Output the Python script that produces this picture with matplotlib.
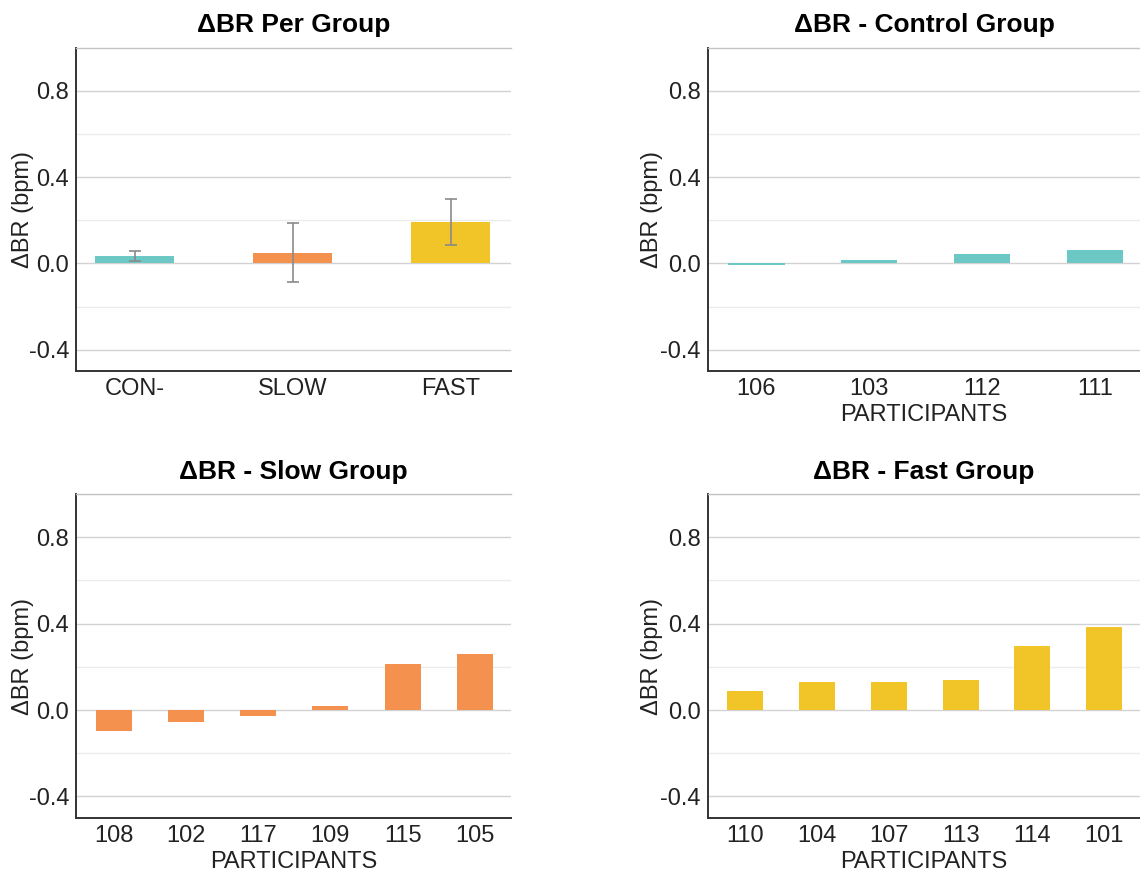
import numpy as np
import matplotlib
matplotlib.use("Agg")
import matplotlib.pyplot as plt
from matplotlib.ticker import MultipleLocator, FixedLocator

plt.rcParams['font.family'] = ['Liberation Sans', 'DejaVu Sans']

# group summary
groups = ["CON-", "SLOW", "FAST"]
group_means = [0.033, 0.050, 0.190]
group_err = [0.023, 0.137, 0.107]

# per participant
control_ids = ["106", "103", "112", "111"]
control_vals = [-0.008, 0.017, 0.042, 0.060]

slow_ids = ["108", "102", "117", "109", "115", "105"]
slow_vals = [-0.096, -0.056, -0.029, 0.019, 0.213, 0.259]

fast_ids = ["110", "104", "107", "113", "114", "101"]
fast_vals = [0.090, 0.128, 0.128, 0.137, 0.297, 0.383]

TEAL = "#6cc8c4"
ORANGE = "#f5914f"
YELLOW = "#f1c428"


def style_axes(ax, title, xlabel=None, label_x=-0.1):
    ax.set_ylim(-0.5, 1.0)
    ax.yaxis.set_major_locator(FixedLocator([-0.4, 0.0, 0.4, 0.8]))
    ax.yaxis.set_minor_locator(MultipleLocator(0.2))
    ax.set_yticklabels(["-0.4", "0.0", "0.4", "0.8"])
    ax.grid(axis='y', which='major', color='#d2d2d2', linewidth=1.0)
    ax.grid(axis='y', which='minor', color='#ececec', linewidth=1.0)
    ax.set_axisbelow(True)
    ax.tick_params(axis='both', which='both', length=0, labelsize=17,
                   labelcolor='#222222', pad=5)
    ax.spines['right'].set_visible(False)
    ax.spines['top'].set_color('#c4c4c4')
    ax.spines['top'].set_linewidth(1.0)
    for s in ['left', 'bottom']:
        ax.spines[s].set_color('#333333')
        ax.spines[s].set_linewidth(1.4)
    ax.set_title(title, fontsize=19, fontweight='bold', pad=11)
    ax.set_ylabel("\u0394BR (bpm)", fontsize=17, color='#222222')
    ax.yaxis.set_label_coords(label_x, 0.5)
    if xlabel:
        ax.set_xlabel(xlabel, fontsize=17, color='#222222', labelpad=3)


fig = plt.figure(figsize=(11.4, 8.8), dpi=100)
ax1 = fig.add_axes([0.0667, 0.578, 0.3816, 0.368])
ax2 = fig.add_axes([0.621, 0.578, 0.379, 0.368])
ax3 = fig.add_axes([0.0667, 0.0705, 0.3816, 0.368])
ax4 = fig.add_axes([0.621, 0.0705, 0.379, 0.368])

# per group with error bars
x = np.arange(len(groups))
ax1.bar(x, group_means, width=0.5, color=[TEAL, ORANGE, YELLOW])
ax1.errorbar(x, group_means, yerr=group_err, fmt='none', ecolor='#8a8a8a',
             elinewidth=1.2, capsize=4, capthick=1.2)
ax1.set_xticks(x)
ax1.set_xticklabels(groups)
ax1.set_xlim(-0.37, 2.38)
style_axes(ax1, "\u0394BR Per Group", label_x=-0.097)

for ax, ids, vals, col, title in [
        (ax2, control_ids, control_vals, TEAL, "\u0394BR - Control Group"),
        (ax3, slow_ids, slow_vals, ORANGE, "\u0394BR - Slow Group"),
        (ax4, fast_ids, fast_vals, YELLOW, "\u0394BR - Fast Group")]:
    xi = np.arange(len(ids))
    ax.bar(xi, vals, width=0.5, color=col)
    ax.set_xticks(xi)
    ax.set_xticklabels(ids)
    if len(ids) == 4:
        ax.set_xlim(-0.43, 3.4)
    else:
        ax.set_xlim(-0.52, 5.5)
    lx = -0.097 if ax is ax3 else -0.104
    style_axes(ax, title, xlabel="PARTICIPANTS", label_x=lx)

fig.savefig("out.png", dpi=100, facecolor='white')
